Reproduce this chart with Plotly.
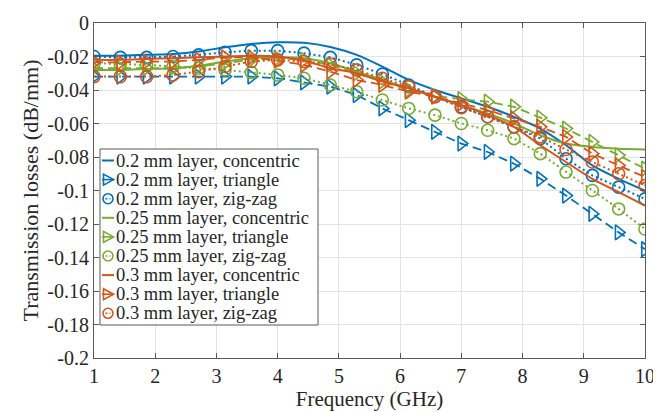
import plotly.graph_objects as go

# Frequencies (GHz) of the sampled points
freq = [1.00, 1.43, 1.86, 2.29, 2.71, 3.14, 3.57, 4.00, 4.43, 4.86, 5.29,
        5.71, 6.14, 6.57, 7.00, 7.43, 7.86, 8.29, 8.71, 9.14, 9.57, 10.00]

# 0.2 mm layer
b_conc = [-0.0195, -0.0195, -0.019, -0.0185, -0.017, -0.0145, -0.0125, -0.0115, -0.0118, -0.0143, -0.019,
          -0.026, -0.034, -0.040, -0.045, -0.050, -0.056, -0.063, -0.073, -0.085, -0.093, -0.100]
b_tri = [-0.032, -0.032, -0.032, -0.032, -0.032, -0.032, -0.032, -0.033, -0.0355, -0.038, -0.043,
         -0.051, -0.058, -0.065, -0.072, -0.077, -0.084, -0.093, -0.103, -0.114, -0.125, -0.135]
b_zig = [-0.020, -0.0205, -0.0205, -0.020, -0.019, -0.0175, -0.0165, -0.0165, -0.018, -0.0205, -0.025,
         -0.0305, -0.037, -0.044, -0.050, -0.056, -0.062, -0.069, -0.081, -0.091, -0.098, -0.105]

# 0.25 mm layer
g_conc = [-0.028, -0.028, -0.0275, -0.027, -0.0255, -0.023, -0.021, -0.0205, -0.021, -0.024, -0.029,
          -0.034, -0.039, -0.044, -0.049, -0.054, -0.060, -0.067, -0.072, -0.074, -0.075, -0.0755]
g_tri = [-0.027, -0.027, -0.027, -0.027, -0.026, -0.024, -0.022, -0.021, -0.022, -0.025, -0.030,
         -0.035, -0.040, -0.0435, -0.0455, -0.047, -0.050, -0.0565, -0.063, -0.071, -0.079, -0.087]
g_zig = [-0.024, -0.0245, -0.025, -0.026, -0.027, -0.028, -0.0295, -0.031, -0.033, -0.037, -0.041,
         -0.046, -0.051, -0.055, -0.060, -0.064, -0.069, -0.078, -0.089, -0.100, -0.111, -0.123]

# 0.3 mm layer
o_conc = [-0.022, -0.022, -0.0215, -0.021, -0.0205, -0.020, -0.0195, -0.020, -0.0225, -0.027, -0.030,
          -0.035, -0.039, -0.044, -0.049, -0.055, -0.062, -0.073, -0.083, -0.093, -0.101, -0.109]
o_tri = [-0.0235, -0.0235, -0.023, -0.023, -0.022, -0.0205, -0.0205, -0.0225, -0.025, -0.029, -0.034,
         -0.037, -0.041, -0.044, -0.048, -0.052, -0.057, -0.062, -0.068, -0.078, -0.085, -0.092]
o_zig = [-0.032, -0.032, -0.032, -0.031, -0.029, -0.026, -0.023, -0.022, -0.023, -0.0245, -0.028,
         -0.033, -0.038, -0.044, -0.0505, -0.056, -0.062, -0.068, -0.0755, -0.083, -0.090, -0.097]

names = ["0.2 mm layer, concentric", "0.2 mm layer, triangle", "0.2 mm layer, zig-zag",
         "0.25 mm layer, concentric", "0.25 mm layer, triangle", "0.25 mm layer, zig-zag",
         "0.3 mm layer, concentric", "0.3 mm layer, triangle", "0.3 mm layer, zig-zag"]

x_ticks = [1, 2, 3, 4, 5, 6, 7, 8, 9, 10]
y_ticks = [0, -0.02, -0.04, -0.06, -0.08, -0.1, -0.12, -0.14, -0.16, -0.18, -0.2]
y_tick_text = ["0", "-0.02", "-0.04", "-0.06", "-0.08", "-0.1", "-0.12", "-0.14", "-0.16", "-0.18", "-0.2"]

BLUE, ORANGE, GREEN = "#0072BD", "#D95319", "#77AC30"
FONT = "Liberation Serif"
TXT = "#262626"

series = [
    (b_conc, BLUE, "conc"), (b_tri, BLUE, "tri"), (b_zig, BLUE, "zig"),
    (g_conc, GREEN, "conc"), (g_tri, GREEN, "tri"), (g_zig, GREEN, "zig"),
    (o_conc, ORANGE, "conc"), (o_tri, ORANGE, "tri"), (o_zig, ORANGE, "zig"),
]

DASH_TRI = "9px,5px"
DASH_DOT = "2px,3px"

fig = go.Figure()
for (vals, col, kind), name in zip(series, names):
    if kind == "conc":
        fig.add_trace(go.Scatter(x=freq, y=vals, name=name, mode="lines",
                                 line=dict(color=col, width=2, shape="spline", smoothing=0.8)))
    elif kind == "tri":
        fig.add_trace(go.Scatter(x=freq, y=vals, name=name, mode="lines+markers",
                                 line=dict(color=col, width=1.8, dash=DASH_TRI),
                                 marker=dict(symbol="triangle-right-open", size=13,
                                             line=dict(width=1.6, color=col))))
    else:
        fig.add_trace(go.Scatter(x=freq, y=vals, name=name, mode="lines+markers",
                                 line=dict(color=col, width=2, dash=DASH_DOT),
                                 marker=dict(symbol="circle-open", size=12,
                                             line=dict(width=1.6, color=col))))

# ---- layout geometry (pixels) ----
W, H = 661, 412
ML, MR, MT, MB = 86, 24, 15, 62
PW, PH = W - ML - MR, H - MT - MB


def px(xp):
    return (xp - ML) / PW


def py(yp):
    return (H - MB - yp) / PH


# ---- legend drawn inside the axes (MATLAB style) ----
shapes = []
annotations = []
LX0, LX1, LY0, LY1 = 92, 310, 141, 317
shapes.append(dict(type="rect", xref="paper", yref="paper", x0=px(LX0), x1=px(LX1),
                   y0=py(LY1), y1=py(LY0), fillcolor="white",
                   line=dict(color="#5a5a5a", width=1), layer="above"))
row0, rowstep = 152.5, 19.1
sym_cx = 100
for i, ((vals, col, kind), name) in enumerate(zip(series, names)):
    yc = row0 + i * rowstep
    if kind == "conc":
        shapes.append(dict(type="line", xref="paper", yref="paper",
                           x0=px(94), x1=px(106), y0=py(yc), y1=py(yc),
                           line=dict(color=col, width=2), layer="above"))
    elif kind == "tri":
        shapes.append(dict(type="line", xref="paper", yref="paper",
                           x0=px(94), x1=px(106), y0=py(yc), y1=py(yc),
                           line=dict(color=col, width=1.6), layer="above"))
        path = "M {} {} L {} {} L {} {} Z".format(
            px(sym_cx - 4.5), py(yc - 5.5), px(sym_cx + 5.5), py(yc),
            px(sym_cx - 4.5), py(yc + 5.5))
        shapes.append(dict(type="path", xref="paper", yref="paper", path=path,
                           line=dict(color=col, width=1.6), fillcolor="rgba(0,0,0,0)",
                           layer="above"))
    else:
        shapes.append(dict(type="circle", xref="paper", yref="paper",
                           x0=px(sym_cx - 5), x1=px(sym_cx + 5), y0=py(yc + 5), y1=py(yc - 5),
                           line=dict(color=col, width=1.6), layer="above"))
        shapes.append(dict(type="line", xref="paper", yref="paper",
                           x0=px(97.5), x1=px(102.5), y0=py(yc), y1=py(yc),
                           line=dict(color=col, width=1.6, dash="2px,2px"), layer="above"))
    annotations.append(dict(xref="paper", yref="paper", x=px(105.5), y=py(yc),
                            xanchor="left", yanchor="middle", showarrow=False,
                            text=name, font=dict(family=FONT, size=18.5, color=TXT)))

axis_common = dict(showgrid=True, gridcolor="#e3e3e3", gridwidth=1, zeroline=False,
                   showline=True, linecolor="#5a5a5a", linewidth=1, mirror="ticks",
                   ticks="inside", ticklen=5, tickcolor="#5a5a5a",
                   tickfont=dict(family=FONT, size=20, color=TXT))

fig.update_xaxes(range=[1, 10], tickvals=x_ticks, ticktext=[str(v) for v in x_ticks],
                 title=dict(text="Frequency (GHz)", font=dict(family=FONT, size=21, color=TXT),
                            standoff=0),
                 **axis_common)
fig.update_yaxes(range=[-0.2, 0], tickvals=y_ticks, ticktext=y_tick_text,
                 title=dict(text="Transmission losses (dB/mm)", font=dict(family=FONT, size=22, color=TXT),
                            standoff=2),
                 **axis_common)

fig.update_layout(
    width=W, height=H,
    margin=dict(l=ML, r=MR, t=MT, b=MB, autoexpand=False),
    plot_bgcolor="white", paper_bgcolor="white",
    font=dict(family=FONT, color=TXT),
    showlegend=False,
    shapes=shapes,
    annotations=annotations,
)

fig.write_html("out.html")
